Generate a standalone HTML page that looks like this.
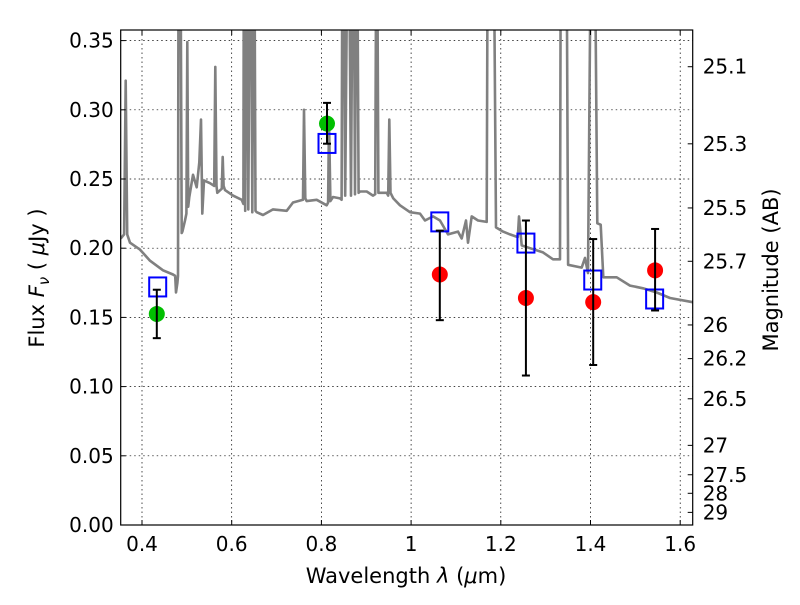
<!DOCTYPE html>
<html><head><meta charset="utf-8"><style>
body{margin:0;background:#fff;}
svg text{font-family:"DejaVu Sans","Liberation Sans",sans-serif;fill:#000;}
</style></head><body>
<svg id="chart" width="800" height="600" viewBox="0 0 800 600" xmlns="http://www.w3.org/2000/svg">
<rect width="800" height="600" fill="#fff"/>
<defs><clipPath id="clip"><rect x="120.7" y="30" width="572" height="495"/></clipPath></defs>
<g id="grid"></g>
<g id="spec" clip-path="url(#clip)"></g>
<g id="marks"></g>
<rect x="120.7" y="30" width="572" height="495" fill="none" stroke="#000" stroke-width="1.2"/>
<g id="axes"></g>
<text x="406" y="583" font-size="21" text-anchor="middle">Wavelength  <tspan font-style="italic">λ</tspan> (<tspan font-style="italic">μ</tspan>m)</text>
<text transform="translate(44,278) rotate(-90)" font-size="21" text-anchor="middle">Flux  <tspan font-style="italic">F</tspan><tspan font-style="italic" font-size="15" dy="5">ν</tspan><tspan dy="-5">  ( </tspan><tspan font-style="italic">μ</tspan>Jy )</text>
<text transform="translate(778,270) rotate(-90)" font-size="21" text-anchor="middle">Magnitude (AB)</text>
</svg>
<script>
const specLam=[0.3525,0.3600,0.3637,0.3670,0.3732,0.3955,0.4178,0.4468,0.4691,0.4740,0.4758,0.4790,0.4803,0.4818,0.4850,0.4885,0.4900,0.4959,0.4990,0.5010,0.5030,0.5055,0.5137,0.5220,0.5278,0.5316,0.5345,0.5382,0.5516,0.5610,0.5634,0.5660,0.5679,0.5780,0.5799,0.5820,0.5851,0.6029,0.6223,0.6260,0.6274,0.6300,0.6334,0.6370,0.6423,0.6460,0.6497,0.6530,0.6557,0.6698,0.6921,0.7226,0.7367,0.7590,0.7612,0.7640,0.7672,0.7895,0.8118,0.8150,0.8170,0.8200,0.8259,0.8415,0.8450,0.8475,0.8530,0.8600,0.8660,0.8711,0.8750,0.8787,0.8830,0.8861,0.9010,0.9151,0.9200,0.9233,0.9270,0.9345,0.9456,0.9490,0.9514,0.9540,0.9603,0.9753,0.9975,1.0198,1.0310,1.0488,1.0644,1.0823,1.1046,1.1128,1.1224,1.1269,1.1351,1.1492,1.1686,1.1715,1.1826,1.1893,1.2049,1.2205,1.2380,1.2406,1.2466,1.2651,1.2941,1.3164,1.3321,1.3343,1.3455,1.3500,1.3804,1.3878,1.3945,1.4027,1.4078,1.4152,1.4228,1.4286,1.4584,1.4881,1.5171,1.5476,1.5773,1.6279];
const specFlux=[0.207,0.210,0.321,0.210,0.204,0.199,0.191,0.184,0.181,0.180,0.168,0.175,0.180,0.50,0.50,0.211,0.212,0.220,0.225,0.349,0.230,0.237,0.253,0.244,0.262,0.293,0.225,0.249,0.247,0.245,0.331,0.245,0.240,0.243,0.266,0.245,0.242,0.238,0.235,0.232,0.50,0.227,0.50,0.228,0.50,0.226,0.50,0.227,0.226,0.224,0.228,0.227,0.233,0.235,0.300,0.236,0.234,0.235,0.231,0.233,0.293,0.234,0.237,0.236,0.235,0.50,0.238,0.50,0.238,0.50,0.239,0.50,0.240,0.241,0.241,0.238,0.239,0.50,0.240,0.240,0.240,0.238,0.293,0.240,0.236,0.231,0.226,0.225,0.220,0.223,0.220,0.210,0.212,0.207,0.220,0.204,0.223,0.220,0.219,0.50,0.50,0.215,0.212,0.210,0.208,0.223,0.202,0.200,0.197,0.192,0.192,0.50,0.50,0.188,0.186,0.193,0.182,0.50,0.50,0.218,0.217,0.179,0.179,0.173,0.171,0.168,0.164,0.161];
const obsLam=[0.433,0.8125,1.064,1.256,1.406,1.544];
const obsFlux=[0.1525,0.290,0.181,0.164,0.161,0.184];
const obsErrLo=[0.135,0.2755,0.148,0.108,0.1156,0.155];
const obsErrHi=[0.170,0.305,0.2127,0.220,0.2066,0.2139];
const obsDetected=[true,true,false,false,false,false];
const modelLam=[0.435,0.8125,1.064,1.256,1.405,1.543];
const modelFlux=[0.172,0.2757,0.219,0.2037,0.177,0.1633];
const xTicks=[0.4,0.6,0.8,1.0,1.2,1.4,1.6];
const xTickLabels=["0.4","0.6","0.8","1","1.2","1.4","1.6"];
const yTicks=[0,0.05,0.10,0.15,0.20,0.25,0.30,0.35];
const yTickLabels=["0.00","0.05","0.10","0.15","0.20","0.25","0.30","0.35"];
const magTicks=[25.1,25.3,25.5,25.7,26,26.2,26.5,27,27.5,28,29];
const magTickLabels=["25.1","25.3","25.5","25.7","26","26.2","26.5","27","27.5","28","29"];

const NS="http://www.w3.org/2000/svg";
const X=l=>142+(l-0.4)*448.5;
const Y=f=>525-f*1384;
const L=120.7,R=692.7,T=30,B=525;
function mk(tag,attrs,parent){const e=document.createElementNS(NS,tag);for(const k in attrs)e.setAttribute(k,attrs[k]);parent.appendChild(e);return e;}
const grid=document.getElementById('grid'),axes=document.getElementById('axes'),spec=document.getElementById('spec'),marks=document.getElementById('marks');

xTicks.forEach((t,i)=>{const x=X(t);
 const g=mk('line',{x1:x,x2:x,y1:T,y2:B,stroke:'#000','stroke-width':0.7,'stroke-dasharray':'1.5,3'},grid);
 
 
 mk('line',{x1:x,x2:x,y1:B,y2:B-5,stroke:'#000'},axes);
 mk('line',{x1:x,x2:x,y1:T,y2:T+5,stroke:'#000'},axes);
 const tx=mk('text',{x:x,y:B+26,'font-size':20,'text-anchor':'middle'},axes);tx.textContent=xTickLabels[i];
 
 
});
yTicks.forEach((t,i)=>{const y=Y(t);
 const g=mk('line',{x1:L,x2:R,y1:y,y2:y,stroke:'#000','stroke-width':0.7,'stroke-dasharray':'1.5,3'},grid);
 
 
 mk('line',{x1:L,x2:L+5,y1:y,y2:y,stroke:'#000'},axes);
 const tx=mk('text',{x:L-7,y:y+7,'font-size':20,'text-anchor':'end'},axes);tx.textContent=yTickLabels[i];
 
 
});
magTicks.forEach((m,i)=>{const y=Y(Math.pow(10,(23.9-m)/2.5));
 mk('line',{x1:R,x2:R-5,y1:y,y2:y,stroke:'#000'},axes);
 const tx=mk('text',{x:R+10,y:y+7,'font-size':20},axes);tx.textContent=magTickLabels[i];
 
 
});
const pts=specLam.map((l,i)=>X(l).toFixed(1)+','+Y(specFlux[i]).toFixed(1)).join(' ');
const pl=mk('polyline',{points:pts,fill:'none',stroke:'#808080','stroke-width':2.6,'stroke-linejoin':'round'},spec);


obsLam.forEach((l,i)=>{const x=X(l);
 const c=mk('circle',{cx:x,cy:Y(obsFlux[i]),r:8,fill:obsDetected[i]?'#00bf00':'#ff0000'},marks);
 
 
});
modelLam.forEach((l,i)=>{const x=X(l),y=Y(modelFlux[i]);
 const r=mk('rect',{x:x-8.5,y:y-9.5,width:17,height:19,fill:'none',stroke:'#0000ff','stroke-width':2},marks);
 
 
});
obsLam.forEach((l,i)=>{const x=X(l),y1=Y(obsErrLo[i]),y2=Y(obsErrHi[i]);
 const e=mk('g',{stroke:'#000','stroke-width':2},marks);
 
 
 mk('line',{x1:x,x2:x,y1:y1,y2:y2},e);
 mk('line',{x1:x-4,x2:x+4,y1:y1,y2:y1},e);
 mk('line',{x1:x-4,x2:x+4,y1:y2,y2:y2},e);
});
</script>
</body></html>
